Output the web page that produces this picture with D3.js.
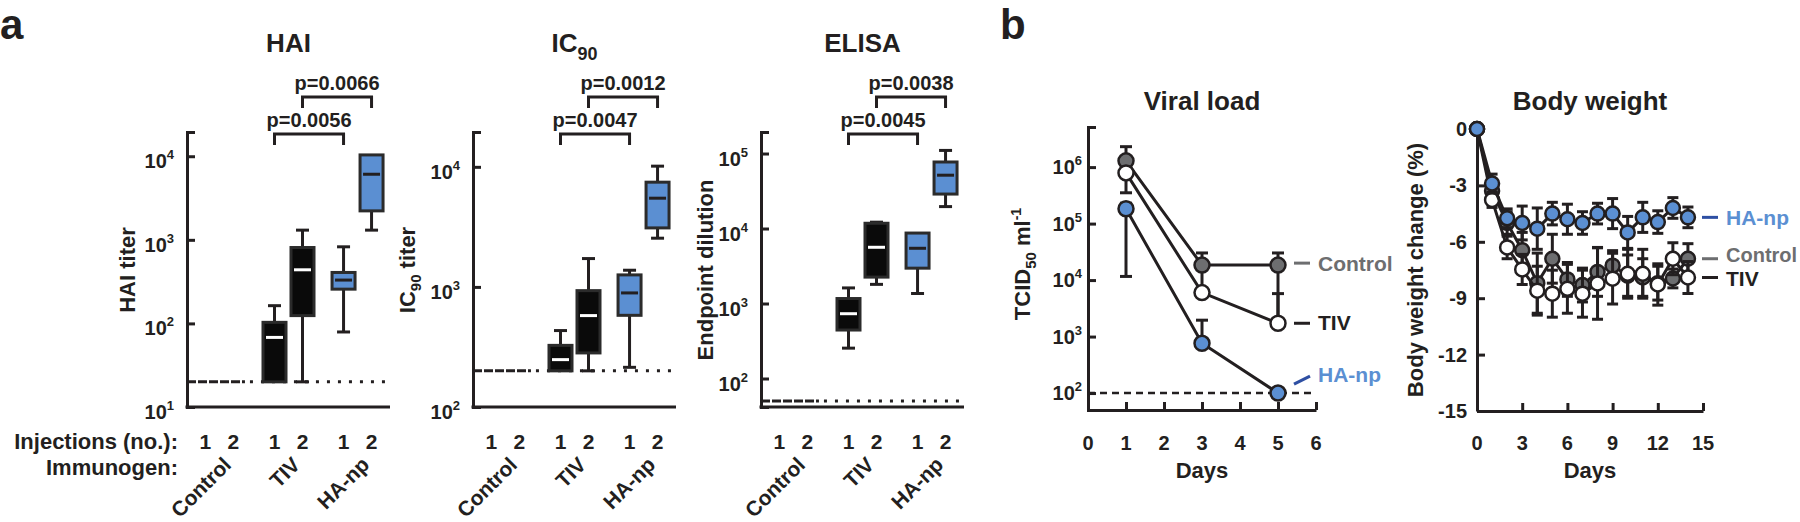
<!DOCTYPE html>
<html><head><meta charset="utf-8">
<script src="https://cdn.jsdelivr.net/npm/d3@7"></script>
<style>
body{margin:0;background:#fff}
svg{display:block}
text{font-family:"Liberation Sans",Arial,Helvetica,sans-serif;font-weight:bold;fill:#231f20}
</style>
</head><body><svg id="c" width="1800" height="522"></svg>
<script>
// ---------------- DATA ----------------
const groups = ["Control", "TIV", "HA-np"];
const injections = ["1", "2"];
// box stats per slot (Control-1, Control-2, TIV-1, TIV-2, HA-np-1, HA-np-2): [low whisker, q1, median, q3, high whisker]
const haiStats = [[20,20,20,20,20],[20,20,20,20,20],[20,20,68,103,163],[20,124,438,809,1306],[79,257,330,407,825],[1306,2220,6090,10370,10370]];
const ic90Stats = [[200,200,200,200,200],[200,200,200,200,200],[200,200,248,326,433],[200,282,577,931,1722],[214,580,891,1259,1377],[2545,3100,5480,7450,10130]];
const elisaStats = [[50,50,50,50,50],[50,50,50,50,50],[254,443,731,1165,1614],[1800,2250,5620,11750,12150],[1360,2960,5450,8700,8700],[19600,28800,51400,77100,110000]];
const lods = [20, 200, 50];
const haiTicks = [10, 100, 1000, 10000];
const ic90Ticks = [100, 1000, 10000];
const elisaTicks = [100, 1000, 10000, 100000];
const haiP = ["p=0.0056", "p=0.0066"];
const ic90P = ["p=0.0047", "p=0.0012"];
const elisaP = ["p=0.0045", "p=0.0038"];

// Viral load (TCID50/ml)
const vlDays = [1, 3, 5];
const vlControl = [1.29e6, 18400, 18400];
const vlControlLo = [9.0e5, 6500, 2000];
const vlControlHi = [2.3e6, 30200, 30200];
const vlTIV = [7.9e5, 6000, 1720];
const vlTIVLo = [3.51e5, 5000, 1500];
const vlTIVHi = [1.0e6, 7000, 5760];
const vlHA = [1.83e5, 760, 100];
const vlHALo = [11600, 650, 100];
const vlHAHi = [2.3e5, 1950, 100];
const vlXTicks = [0, 1, 2, 3, 4, 5, 6];
const vlYTicks = [1e2, 1e3, 1e4, 1e5, 1e6];
const vlLOD = 100;

// Body weight change (%)
const bwDays = [0,1,2,3,4,5,6,7,8,9,10,11,12,13,14];
const bwHA = [0,-2.9,-4.75,-5.0,-5.3,-4.5,-4.8,-5.0,-4.5,-4.5,-5.5,-4.7,-4.95,-4.2,-4.7];
const bwHAErr = [0,0.5,0.5,0.9,1.1,0.6,0.8,0.6,0.55,0.8,0.85,0.8,0.6,0.55,0.55];
const bwControl = [0,-3.3,-5.0,-6.45,-8.2,-6.9,-8.0,-8.3,-7.6,-7.27,-7.8,-7.9,-8.2,-7.95,-6.9];
const bwControlErr = [0,0.4,0.6,0.95,1.6,1.3,0.9,0.9,1.3,0.8,1.1,1.0,0.9,0.5,0.8];
const bwTIV = [0,-3.77,-6.3,-7.47,-8.6,-8.76,-8.5,-8.76,-8.22,-7.96,-7.7,-7.7,-8.27,-6.9,-7.9];
const bwTIVErr = [0,0.4,0.6,0.8,1.3,1.25,1.3,1.25,1.9,1.35,1.3,1.3,1.1,0.85,0.85];
const bwXTicks = [0, 3, 6, 9, 12, 15];
const bwYTicks = [0, -3, -6, -9, -12, -15];

// ---------------- STYLE ----------------
const INK = "#231f20", BLUE = "#5b8fd2", GRAY = "#6d6e70", DBLUE = "#2e4fa3";
const svg = d3.select("#c");
const BOXW = 23;

function styleAxis(g) {
  g.selectAll("path.domain").attr("stroke", INK).attr("stroke-width", 3);
  g.selectAll(".tick line").attr("stroke", INK).attr("stroke-width", 3);
}

// ---------------- PANEL A ----------------
function boxPanel(cfg) {
  const W = 203, top = 132, bottom = 407, left = cfg.left;
  const y = d3.scaleLog().domain(cfg.domain).range([bottom, top]);
  const gx = d3.scalePoint().domain(groups).range([left, left + W]).padding(0.47);
  const ix = d3.scalePoint().domain(injections).range([-14, 14]);
  const slots = groups.flatMap(g => injections.map(n => ({g, n})));
  const data = cfg.stats.map((s, i) => ({g: slots[i].g, n: slots[i].n, s, i, cx: gx(slots[i].g) + ix(slots[i].n)}));
  const g = svg.append("g");

  // title
  const t = g.append("text").attr("x", left + W / 2).attr("y", 52).attr("text-anchor", "middle").attr("font-size", 26);
  t.append("tspan").text(cfg.title);
  if (cfg.titleSub) t.append("tspan").attr("dy", 8).attr("font-size", 18).text(cfg.titleSub);

  // y label
  const yl = g.append("text").attr("transform", `translate(${cfg.ylx},270) rotate(-90)`).attr("text-anchor", "middle").attr("font-size", 22);
  cfg.ylabel.forEach(p => {
    const ts = yl.append("tspan").text(p.t);
    if (p.dy) ts.attr("dy", p.dy);
    if (p.fs) ts.attr("font-size", p.fs);
  });

  // axes
  const ax = g.append("g").attr("transform", `translate(${left},0)`)
    .call(d3.axisLeft(y).tickValues(cfg.ticks).tickSize(-8).tickSizeOuter(-8).tickFormat(""));
  styleAxis(ax);
  g.append("line").attr("x1", left - 1.5).attr("x2", left + W).attr("y1", bottom).attr("y2", bottom)
    .attr("stroke", INK).attr("stroke-width", 3);
  cfg.ticks.forEach(v => {
    const tx = g.append("text").attr("x", left - 13).attr("y", y(v) + 12).attr("text-anchor", "end").attr("font-size", 20);
    tx.append("tspan").text("10");
    tx.append("tspan").attr("dy", -9).attr("font-size", 13).text(Math.round(Math.log10(v)));
  });

  // LOD lines
  const ctrlEnd = data[1].cx + BOXW / 2;
  g.append("line").attr("x1", left).attr("x2", ctrlEnd).attr("y1", y(cfg.lod)).attr("y2", y(cfg.lod))
    .attr("stroke", INK).attr("stroke-width", 3).attr("stroke-dasharray", "9,2");
  g.append("line").attr("x1", ctrlEnd + 5).attr("x2", left + W).attr("y1", y(cfg.lod)).attr("y2", y(cfg.lod))
    .attr("stroke", INK).attr("stroke-width", 3).attr("stroke-dasharray", "3,8");

  // boxes
  const bd = data.filter(d => d.s[3] > d.s[1]);
  const bg = g.selectAll("g.box").data(bd).join("g");
  bg.each(function(d) {
    const b = d3.select(this);
    const fill = d.g === "TIV" ? "#0a0a0a" : BLUE;
    const med = d.g === "TIV" ? "#ffffff" : INK;
    if (d.s[4] > d.s[3]) {
      b.append("line").attr("x1", d.cx).attr("x2", d.cx).attr("y1", y(d.s[3])).attr("y2", y(d.s[4])).attr("stroke", INK).attr("stroke-width", 3);
      b.append("line").attr("x1", d.cx - 6.5).attr("x2", d.cx + 6.5).attr("y1", y(d.s[4])).attr("y2", y(d.s[4])).attr("stroke", INK).attr("stroke-width", 3);
    }
    if (d.s[0] < d.s[1]) {
      b.append("line").attr("x1", d.cx).attr("x2", d.cx).attr("y1", y(d.s[1])).attr("y2", y(d.s[0])).attr("stroke", INK).attr("stroke-width", 3);
      b.append("line").attr("x1", d.cx - 6.5).attr("x2", d.cx + 6.5).attr("y1", y(d.s[0])).attr("y2", y(d.s[0])).attr("stroke", INK).attr("stroke-width", 3);
    }
    b.append("rect").attr("x", d.cx - BOXW / 2).attr("width", BOXW).attr("y", y(d.s[3])).attr("height", y(d.s[1]) - y(d.s[3]))
      .attr("fill", fill).attr("stroke", "#2b2b2b").attr("stroke-width", 3);
    b.append("line").attr("x1", d.cx - BOXW / 2 + 3).attr("x2", d.cx + BOXW / 2 - 3).attr("y1", y(d.s[2])).attr("y2", y(d.s[2]))
      .attr("stroke", med).attr("stroke-width", 3);
  });

  // p-value brackets
  const br = [{a: 2, b: 4, lab: cfg.p[0], yb: top + 2}, {a: 3, b: 5, lab: cfg.p[1], yb: top - 35}];
  br.forEach(o => {
    const x1 = data[o.a].cx, x2 = data[o.b].cx;
    g.append("path").attr("d", `M${x1},${o.yb + 11}V${o.yb}H${x2}V${o.yb + 11}`)
      .attr("fill", "none").attr("stroke", INK).attr("stroke-width", 3);
    g.append("text").attr("x", (x1 + x2) / 2).attr("y", o.yb - 7).attr("text-anchor", "middle").attr("font-size", 20).text(o.lab);
  });

  // x labels
  g.selectAll("text.inj").data(data).join("text").attr("class", "inj")
    .attr("x", d => d.cx).attr("y", 449).attr("text-anchor", "middle").attr("font-size", 21).text(d => d.n);
  g.selectAll("text.grp").data(groups).join("text").attr("class", "grp")
    .attr("transform", d => `translate(${gx(d) + 13},466) rotate(-45)`).attr("text-anchor", "end").attr("font-size", 21).text(d => d);
}

boxPanel({left: 187, title: "HAI", stats: haiStats, lod: lods[0], domain: [10, Math.pow(10, 4.29)], ticks: haiTicks, p: haiP,
  ylx: 135, ylabel: [{t: "HAI titer"}]});
boxPanel({left: 473, title: "IC", titleSub: "90", stats: ic90Stats, lod: lods[1], domain: [100, Math.pow(10, 4.29)], ticks: ic90Ticks, p: ic90P,
  ylx: 415, ylabel: [{t: "IC"}, {t: "90", dy: 6, fs: 15}, {t: " titer", dy: -6, fs: 22}]});
boxPanel({left: 761, title: "ELISA", stats: elisaStats, lod: lods[2], domain: [Math.pow(10, 1.62), Math.pow(10, 5.287)], ticks: elisaTicks, p: elisaP,
  ylx: 713, ylabel: [{t: "Endpoint dilution"}]});

svg.append("text").attr("x", 0).attr("y", 39).attr("font-size", 42).text("a");
svg.append("text").attr("x", 1000).attr("y", 39).attr("font-size", 42).text("b");
svg.append("text").attr("x", 178).attr("y", 449).attr("text-anchor", "end").attr("font-size", 22).text("Injections (no.):");
svg.append("text").attr("x", 178).attr("y", 475).attr("text-anchor", "end").attr("font-size", 22).text("Immunogen:");

// ---------------- PANEL B: VIRAL LOAD ----------------
(function() {
  const L = 1088, R = 1316, T = 127, B = 410;
  const x = d3.scaleLinear().domain([0, 6]).range([L, R]);
  const y = d3.scaleLog().domain([Math.pow(10, 1.7), Math.pow(10, 6.71)]).range([B, T]);
  const g = svg.append("g");
  g.append("text").attr("x", (L + R) / 2).attr("y", 110).attr("text-anchor", "middle").attr("font-size", 26).text("Viral load");
  const yl = g.append("text").attr("transform", "translate(1030,264) rotate(-90)").attr("text-anchor", "middle").attr("font-size", 22);
  yl.append("tspan").text("TCID");
  yl.append("tspan").attr("dy", 6).attr("font-size", 15).text("50");
  yl.append("tspan").attr("dy", -6).attr("font-size", 22).text(" ml");
  yl.append("tspan").attr("dy", -9).attr("font-size", 14).text("-1");

  const ay = g.append("g").attr("transform", `translate(${L},0)`)
    .call(d3.axisLeft(y).tickValues(vlYTicks).tickSize(-8).tickSizeOuter(-8).tickFormat(""));
  styleAxis(ay);
  const axx = g.append("g").attr("transform", `translate(0,${B})`)
    .call(d3.axisBottom(x).tickValues(vlXTicks.filter(d => d > 0)).tickSize(-8).tickSizeOuter(0).tickFormat(""));
  styleAxis(axx);
  vlYTicks.forEach(v => {
    const tx = g.append("text").attr("x", L - 6).attr("y", y(v) + 7).attr("text-anchor", "end").attr("font-size", 20);
    tx.append("tspan").text("10");
    tx.append("tspan").attr("dy", -9).attr("font-size", 13).text(Math.round(Math.log10(v)));
  });
  vlXTicks.forEach(v => g.append("text").attr("x", x(v)).attr("y", 450).attr("text-anchor", "middle").attr("font-size", 20).text(v));
  g.append("text").attr("x", (L + R) / 2).attr("y", 478).attr("text-anchor", "middle").attr("font-size", 22).text("Days");

  g.append("line").attr("x1", L).attr("x2", x(6)).attr("y1", y(vlLOD)).attr("y2", y(vlLOD))
    .attr("stroke", INK).attr("stroke-width", 2.5).attr("stroke-dasharray", "7,5");

  const series = [
    {v: vlControl, lo: vlControlLo, hi: vlControlHi, fill: GRAY},
    {v: vlTIV, lo: vlTIVLo, hi: vlTIVHi, fill: "#ffffff"},
    {v: vlHA, lo: vlHALo, hi: vlHAHi, fill: BLUE}
  ];
  series.forEach(s => {
    const pts = vlDays.map((d, i) => ({d, v: s.v[i], lo: s.lo[i], hi: s.hi[i]}));
    pts.forEach(p => {
      [p.lo, p.hi].forEach(e => {
        if (e === p.v) return;
        g.append("line").attr("x1", x(p.d)).attr("x2", x(p.d)).attr("y1", y(p.v)).attr("y2", y(e)).attr("stroke", INK).attr("stroke-width", 3);
        g.append("line").attr("x1", x(p.d) - 6).attr("x2", x(p.d) + 6).attr("y1", y(e)).attr("y2", y(e)).attr("stroke", INK).attr("stroke-width", 3);
      });
    });
    g.append("path").datum(pts).attr("d", d3.line().x(p => x(p.d)).y(p => y(p.v)))
      .attr("fill", "none").attr("stroke", INK).attr("stroke-width", 3);
    g.selectAll(null).data(pts).join("circle").attr("cx", p => x(p.d)).attr("cy", p => y(p.v)).attr("r", 7.5)
      .attr("fill", s.fill).attr("stroke", INK).attr("stroke-width", 2.5);
  });

  const lx = x(5) + 16;
  const cy = y(vlControl[2]), ty = y(vlTIV[2]), hy = y(vlHA[2]);
  g.append("line").attr("x1", lx).attr("x2", lx + 16).attr("y1", cy - 2).attr("y2", cy - 2).attr("stroke", GRAY).attr("stroke-width", 3);
  g.append("text").attr("x", lx + 24).attr("y", cy + 6).attr("font-size", 21).style("fill", GRAY).text("Control");
  g.append("line").attr("x1", lx).attr("x2", lx + 16).attr("y1", ty).attr("y2", ty).attr("stroke", INK).attr("stroke-width", 3);
  g.append("text").attr("x", lx + 24).attr("y", ty + 7).attr("font-size", 21).text("TIV");
  g.append("line").attr("x1", lx).attr("x2", lx + 16).attr("y1", hy - 9).attr("y2", hy - 17).attr("stroke", DBLUE).attr("stroke-width", 3);
  g.append("text").attr("x", lx + 24).attr("y", hy - 11).attr("font-size", 21).style("fill", BLUE).text("HA-np");
})();

// ---------------- PANEL B: BODY WEIGHT ----------------
(function() {
  const L = 1477, R = 1703, T = 129, B = 411;
  const x = d3.scaleLinear().domain([0, 15]).range([L, R]);
  const y = d3.scaleLinear().domain([-15, 0]).range([B, T]);
  const g = svg.append("g");
  g.append("text").attr("x", (L + R) / 2).attr("y", 110).attr("text-anchor", "middle").attr("font-size", 26).text("Body weight");
  g.append("text").attr("transform", "translate(1423,270) rotate(-90)").attr("text-anchor", "middle").attr("font-size", 22).text("Body weight change (%)");

  const ay = g.append("g").attr("transform", `translate(${L},0)`)
    .call(d3.axisLeft(y).tickValues(bwYTicks).tickSize(-8).tickSizeOuter(0).tickFormat(""));
  styleAxis(ay);
  const axx = g.append("g").attr("transform", `translate(0,${B})`)
    .call(d3.axisBottom(x).tickValues(bwXTicks.filter(d => d > 0)).tickSize(-8).tickSizeOuter(0).tickFormat(""));
  styleAxis(axx);
  bwYTicks.forEach(v => g.append("text").attr("x", L - 10).attr("y", y(v) + 7).attr("text-anchor", "end").attr("font-size", 20).text(v));
  bwXTicks.forEach(v => g.append("text").attr("x", x(v)).attr("y", 450).attr("text-anchor", "middle").attr("font-size", 20).text(v));
  g.append("text").attr("x", (L + R) / 2).attr("y", 478).attr("text-anchor", "middle").attr("font-size", 22).text("Days");

  const series = [
    {v: bwControl, e: bwControlErr, fill: GRAY},
    {v: bwTIV, e: bwTIVErr, fill: "#ffffff"},
    {v: bwHA, e: bwHAErr, fill: BLUE}
  ];
  series.forEach(s => {
    const pts = bwDays.map((d, i) => ({d, v: s.v[i], e: s.e[i]}));
    pts.filter(p => p.e > 0).forEach(p => {
      g.append("line").attr("x1", x(p.d)).attr("x2", x(p.d)).attr("y1", y(p.v - p.e)).attr("y2", y(p.v + p.e)).attr("stroke", INK).attr("stroke-width", 3);
      [p.v - p.e, p.v + p.e].forEach(e =>
        g.append("line").attr("x1", x(p.d) - 5.5).attr("x2", x(p.d) + 5.5).attr("y1", y(e)).attr("y2", y(e)).attr("stroke", INK).attr("stroke-width", 3));
    });
    g.append("path").datum(pts).attr("d", d3.line().x(p => x(p.d)).y(p => y(p.v)))
      .attr("fill", "none").attr("stroke", INK).attr("stroke-width", 3);
    g.selectAll(null).data(pts).join("circle").attr("cx", p => x(p.d)).attr("cy", p => y(p.v)).attr("r", 7)
      .attr("fill", s.fill).attr("stroke", INK).attr("stroke-width", 2.5);
  });

  const lx = R - 1;
  const hy = y(bwHA[14]), cy = y(bwControl[14]), ty = y(bwTIV[14]);
  g.append("line").attr("x1", lx).attr("x2", lx + 16).attr("y1", hy).attr("y2", hy).attr("stroke", DBLUE).attr("stroke-width", 3);
  g.append("text").attr("x", lx + 24).attr("y", hy + 8).attr("font-size", 21).style("fill", BLUE).text("HA-np");
  g.append("line").attr("x1", lx).attr("x2", lx + 16).attr("y1", cy).attr("y2", cy).attr("stroke", GRAY).attr("stroke-width", 3);
  g.append("text").attr("x", lx + 24).attr("y", cy + 3).attr("font-size", 20).style("fill", GRAY).text("Control");
  g.append("line").attr("x1", lx).attr("x2", lx + 16).attr("y1", ty).attr("y2", ty).attr("stroke", INK).attr("stroke-width", 3);
  g.append("text").attr("x", lx + 24).attr("y", ty + 8).attr("font-size", 21).text("TIV");
})();
</script>
</body></html>
